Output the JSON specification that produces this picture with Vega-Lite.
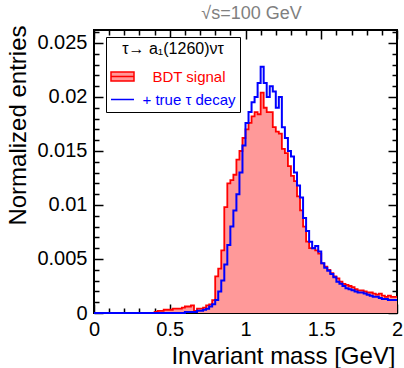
{
  "$schema": "https://vega.github.io/schema/vega-lite/v6.json",
  "width": 303,
  "height": 283,
  "autosize": {"type": "none"},
  "padding": {"left": 94, "top": 30, "right": 7, "bottom": 55},
  "title": {"text": "√s=100 GeV", "fontSize": 18, "color": "#808080", "font": "Liberation Sans", "fontWeight": "normal", "anchor": "middle", "offset": 2, "dx": 6},
  "datasets": {
    "red": [
      {"m":0.00,"v":0},{"m":0.02,"v":0},{"m":0.04,"v":0},{"m":0.06,"v":0},{"m":0.08,"v":0},
      {"m":0.10,"v":0},{"m":0.12,"v":0},{"m":0.14,"v":0},{"m":0.16,"v":0},{"m":0.18,"v":0},
      {"m":0.20,"v":0},{"m":0.22,"v":0},{"m":0.24,"v":0},{"m":0.26,"v":0},{"m":0.28,"v":0},
      {"m":0.30,"v":0},{"m":0.32,"v":0},{"m":0.34,"v":0},{"m":0.36,"v":0},{"m":0.38,"v":0},
      {"m":0.40,"v":0.0001},{"m":0.42,"v":0.0002},{"m":0.44,"v":0.0002},{"m":0.46,"v":0.0003},{"m":0.48,"v":0.0003},
      {"m":0.50,"v":0.0003},{"m":0.52,"v":0.0004},{"m":0.54,"v":0.0004},{"m":0.56,"v":0.0004},{"m":0.58,"v":0.0005},
      {"m":0.60,"v":0.0006},{"m":0.62,"v":0.0006},{"m":0.64,"v":0.0007},{"m":0.66,"v":0.0002},{"m":0.68,"v":0.0004},
      {"m":0.70,"v":0.0004},{"m":0.72,"v":0.0005},{"m":0.74,"v":0.0007},{"m":0.76,"v":0.0008},{"m":0.78,"v":0.0012},
      {"m":0.80,"v":0.0034},{"m":0.82,"v":0.0041},{"m":0.84,"v":0.0058},{"m":0.86,"v":0.0098},{"m":0.88,"v":0.0120},
      {"m":0.90,"v":0.0123},{"m":0.92,"v":0.0128},{"m":0.94,"v":0.0142},{"m":0.96,"v":0.0150},{"m":0.98,"v":0.0162},
      {"m":1.00,"v":0.0170},{"m":1.02,"v":0.0176},{"m":1.04,"v":0.0182},{"m":1.06,"v":0.0186},{"m":1.08,"v":0.0184},
      {"m":1.10,"v":0.0204},{"m":1.12,"v":0.0190},{"m":1.14,"v":0.0186},{"m":1.16,"v":0.0186},{"m":1.18,"v":0.0172},
      {"m":1.20,"v":0.0168},{"m":1.22,"v":0.0166},{"m":1.24,"v":0.0152},{"m":1.26,"v":0.0148},{"m":1.28,"v":0.0136},
      {"m":1.30,"v":0.0127},{"m":1.32,"v":0.0122},{"m":1.34,"v":0.0108},{"m":1.36,"v":0.0095},{"m":1.38,"v":0.0080},
      {"m":1.40,"v":0.0066},{"m":1.42,"v":0.0060},{"m":1.44,"v":0.0060},{"m":1.46,"v":0.0058},{"m":1.48,"v":0.0055},
      {"m":1.50,"v":0.0046},{"m":1.52,"v":0.0043},{"m":1.54,"v":0.0040},{"m":1.56,"v":0.0037},{"m":1.58,"v":0.0034},
      {"m":1.60,"v":0.0032},{"m":1.62,"v":0.0029},{"m":1.64,"v":0.0027},{"m":1.66,"v":0.0026},{"m":1.68,"v":0.0025},
      {"m":1.70,"v":0.0024},{"m":1.72,"v":0.0022},{"m":1.74,"v":0.0021},{"m":1.76,"v":0.0021},{"m":1.78,"v":0.0020},
      {"m":1.80,"v":0.0019},{"m":1.82,"v":0.0019},{"m":1.84,"v":0.0018},{"m":1.86,"v":0.0017},{"m":1.88,"v":0.0018},
      {"m":1.90,"v":0.0016},{"m":1.92,"v":0.0015},{"m":1.94,"v":0.0016},{"m":1.96,"v":0.0015},{"m":1.98,"v":0.0015},
      {"m":2.00,"v":0.0015}
    ],
    "blue": [
      {"m":0.00,"v":0},{"m":0.02,"v":0},{"m":0.04,"v":0},{"m":0.06,"v":0},{"m":0.08,"v":0},
      {"m":0.10,"v":0},{"m":0.12,"v":0},{"m":0.14,"v":0},{"m":0.16,"v":0},{"m":0.18,"v":0},
      {"m":0.20,"v":0},{"m":0.22,"v":0},{"m":0.24,"v":0},{"m":0.26,"v":0},{"m":0.28,"v":0},
      {"m":0.30,"v":0},{"m":0.32,"v":0},{"m":0.34,"v":0},{"m":0.36,"v":0},{"m":0.38,"v":0},
      {"m":0.40,"v":0},{"m":0.42,"v":0},{"m":0.44,"v":0},{"m":0.46,"v":0},{"m":0.48,"v":0},
      {"m":0.50,"v":0},{"m":0.52,"v":0},{"m":0.54,"v":0},{"m":0.56,"v":0},{"m":0.58,"v":0},
      {"m":0.60,"v":0.0001},{"m":0.62,"v":0.0001},{"m":0.64,"v":0.0001},{"m":0.66,"v":0.0001},{"m":0.68,"v":0.0002},
      {"m":0.70,"v":0.0002},{"m":0.72,"v":0.0003},{"m":0.74,"v":0.0004},{"m":0.76,"v":0.0006},{"m":0.78,"v":0.0008},
      {"m":0.80,"v":0.0012},{"m":0.82,"v":0.0020},{"m":0.84,"v":0.0030},{"m":0.86,"v":0.0045},{"m":0.88,"v":0.0063},
      {"m":0.90,"v":0.0080},{"m":0.92,"v":0.0095},{"m":0.94,"v":0.0110},{"m":0.96,"v":0.0130},{"m":0.98,"v":0.0155},
      {"m":1.00,"v":0.0176},{"m":1.02,"v":0.0186},{"m":1.04,"v":0.0195},{"m":1.06,"v":0.0200},{"m":1.08,"v":0.0213},
      {"m":1.10,"v":0.0228},{"m":1.12,"v":0.0213},{"m":1.14,"v":0.0200},{"m":1.16,"v":0.0210},{"m":1.18,"v":0.0205},
      {"m":1.20,"v":0.0190},{"m":1.22,"v":0.0200},{"m":1.24,"v":0.0172},{"m":1.26,"v":0.0162},{"m":1.28,"v":0.0150},
      {"m":1.30,"v":0.0145},{"m":1.32,"v":0.0130},{"m":1.34,"v":0.0118},{"m":1.36,"v":0.0107},{"m":1.38,"v":0.0088},
      {"m":1.40,"v":0.0076},{"m":1.42,"v":0.0066},{"m":1.44,"v":0.0060},{"m":1.46,"v":0.0062},{"m":1.48,"v":0.0057},
      {"m":1.50,"v":0.0046},{"m":1.52,"v":0.0042},{"m":1.54,"v":0.0039},{"m":1.56,"v":0.0036},{"m":1.58,"v":0.0033},
      {"m":1.60,"v":0.0029},{"m":1.62,"v":0.0027},{"m":1.64,"v":0.0025},{"m":1.66,"v":0.0023},{"m":1.68,"v":0.0022},
      {"m":1.70,"v":0.0021},{"m":1.72,"v":0.0020},{"m":1.74,"v":0.0019},{"m":1.76,"v":0.0019},{"m":1.78,"v":0.0018},
      {"m":1.80,"v":0.0017},{"m":1.82,"v":0.0016},{"m":1.84,"v":0.0015},{"m":1.86,"v":0.0015},{"m":1.88,"v":0.0014},
      {"m":1.90,"v":0.0013},{"m":1.92,"v":0.0013},{"m":1.94,"v":0.0012},{"m":1.96,"v":0.0012},{"m":1.98,"v":0.0012},
      {"m":2.00,"v":0.0012}
    ]
  },
  "layer": [
    {
      "data": {"name": "red"},
      "mark": {"type": "area", "interpolate": "step-after", "color": "#ff9999"},
      "encoding": {
        "x": {"field": "m", "type": "quantitative", "scale": {"domain": [0, 2], "nice": false, "zero": false},
          "axis": {"orient": "bottom", "values": [0, 0.5, 1, 1.5, 2], "format": "~g", "tickSize": -9, "labelPadding": 15, "labelFontSize": 20, "labelFlush": false,
            "title": "Invariant mass [GeV]", "titleFontSize": 24, "titleAnchor": "end", "titleAlign": "right", "titleBaseline": "alphabetic", "titleX": 301, "titleY": 50}},
        "y": {"field": "v", "type": "quantitative", "scale": {"domain": [0, 0.0262], "nice": false},
          "axis": {"orient": "left", "values": [0, 0.005, 0.01, 0.015, 0.02, 0.025], "format": "~g", "tickSize": -9, "labelPadding": 16, "labelFontSize": 20,
            "title": "Normalized entries", "titleFontSize": 24, "titleAngle": -90, "titleAlign": "right", "titleBaseline": "alphabetic", "titleX": -69, "titleY": -5}}
      }
    },
    {
      "data": {"name": "red"},
      "mark": {"type": "line", "interpolate": "step-after", "strokeWidth": 1.8},
      "encoding": {
        "x": {"field": "m", "type": "quantitative",
          "axis": {"orient": "bottom", "values": [0.1,0.2,0.3,0.4,0.6,0.7,0.8,0.9,1.1,1.2,1.3,1.4,1.6,1.7,1.8,1.9], "tickSize": -5, "labels": false, "title": null}},
        "y": {"field": "v", "type": "quantitative",
          "axis": {"orient": "left", "values": [0.001,0.002,0.003,0.004,0.006,0.007,0.008,0.009,0.011,0.012,0.013,0.014,0.016,0.017,0.018,0.019,0.021,0.022,0.023,0.024,0.026], "tickSize": -5, "labels": false, "title": null}},
        "color": {"datum": "BDT signal", "type": "nominal",
          "scale": {"domain": ["BDT signal", "+ true τ decay"], "range": ["#ff0000", "#0000ff"]},
          "legend": {"orient": "none", "legendX": 12, "legendY": 7, "title": "τ→ a₁(1260)ντ", "titleFontSize": 16, "titleFont": "Liberation Sans", "titleFontWeight": "normal", "titleColor": "black", "titleAnchor": "middle", "titlePadding": 7,
            "labelFontSize": 15, "labelFont": "Liberation Sans", "labelAlign": "center", "labelOffset": 54, "symbolSize": 529, "symbolStrokeWidth": 1.5, "rowPadding": 2, "padding": 4,
            "strokeColor": "black", "fillColor": "white",
            "encode": {
              "symbols": {"update": {
                "shape": [{"test": "datum.value === 'BDT signal'", "value": "M-1,-0.39H1V0.39H-1ZM-1,0H1"}, {"value": "M-1,0H1"}],
                "fill": [{"test": "datum.value === 'BDT signal'", "value": "#ff9999"}, {"value": "transparent"}]
              }},
              "labels": {"update": {
                "fill": [{"test": "datum.value === 'BDT signal'", "value": "#ff0000"}, {"value": "#0000ff"}]
              }}
            }}}
      }
    },
    {
      "data": {"name": "blue"},
      "mark": {"type": "line", "interpolate": "step-after", "strokeWidth": 2},
      "encoding": {
        "x": {"field": "m", "type": "quantitative",
          "axis": {"orient": "top", "values": [0, 0.5, 1, 1.5, 2], "tickSize": -9, "labels": false, "title": null}},
        "y": {"field": "v", "type": "quantitative",
          "axis": {"orient": "right", "values": [0, 0.005, 0.01, 0.015, 0.02, 0.025], "tickSize": -9, "labels": false, "title": null}},
        "color": {"datum": "+ true τ decay", "type": "nominal"}
      }
    },
    {
      "data": {"name": "blue"},
      "mark": {"type": "point", "opacity": 0},
      "encoding": {
        "x": {"field": "m", "type": "quantitative",
          "axis": {"orient": "top", "values": [0.1,0.2,0.3,0.4,0.6,0.7,0.8,0.9,1.1,1.2,1.3,1.4,1.6,1.7,1.8,1.9], "tickSize": -5, "labels": false, "title": null}},
        "y": {"field": "v", "type": "quantitative",
          "axis": {"orient": "right", "values": [0.001,0.002,0.003,0.004,0.006,0.007,0.008,0.009,0.011,0.012,0.013,0.014,0.016,0.017,0.018,0.019,0.021,0.022,0.023,0.024,0.026], "tickSize": -5, "labels": false, "title": null}}
      }
    }
  ],
  "resolve": {"axis": {"x": "independent", "y": "independent"}},
  "config": {
    "font": "Liberation Sans",
    "title": {"fontSize": 18},
    "view": {"stroke": "black", "strokeWidth": 2},
    "axis": {"grid": false, "domain": false, "tickColor": "black", "tickWidth": 1.5, "labelColor": "black", "titleColor": "black", "labelFont": "Liberation Sans", "titleFont": "Liberation Sans", "titleFontWeight": "normal"}
  }
}
